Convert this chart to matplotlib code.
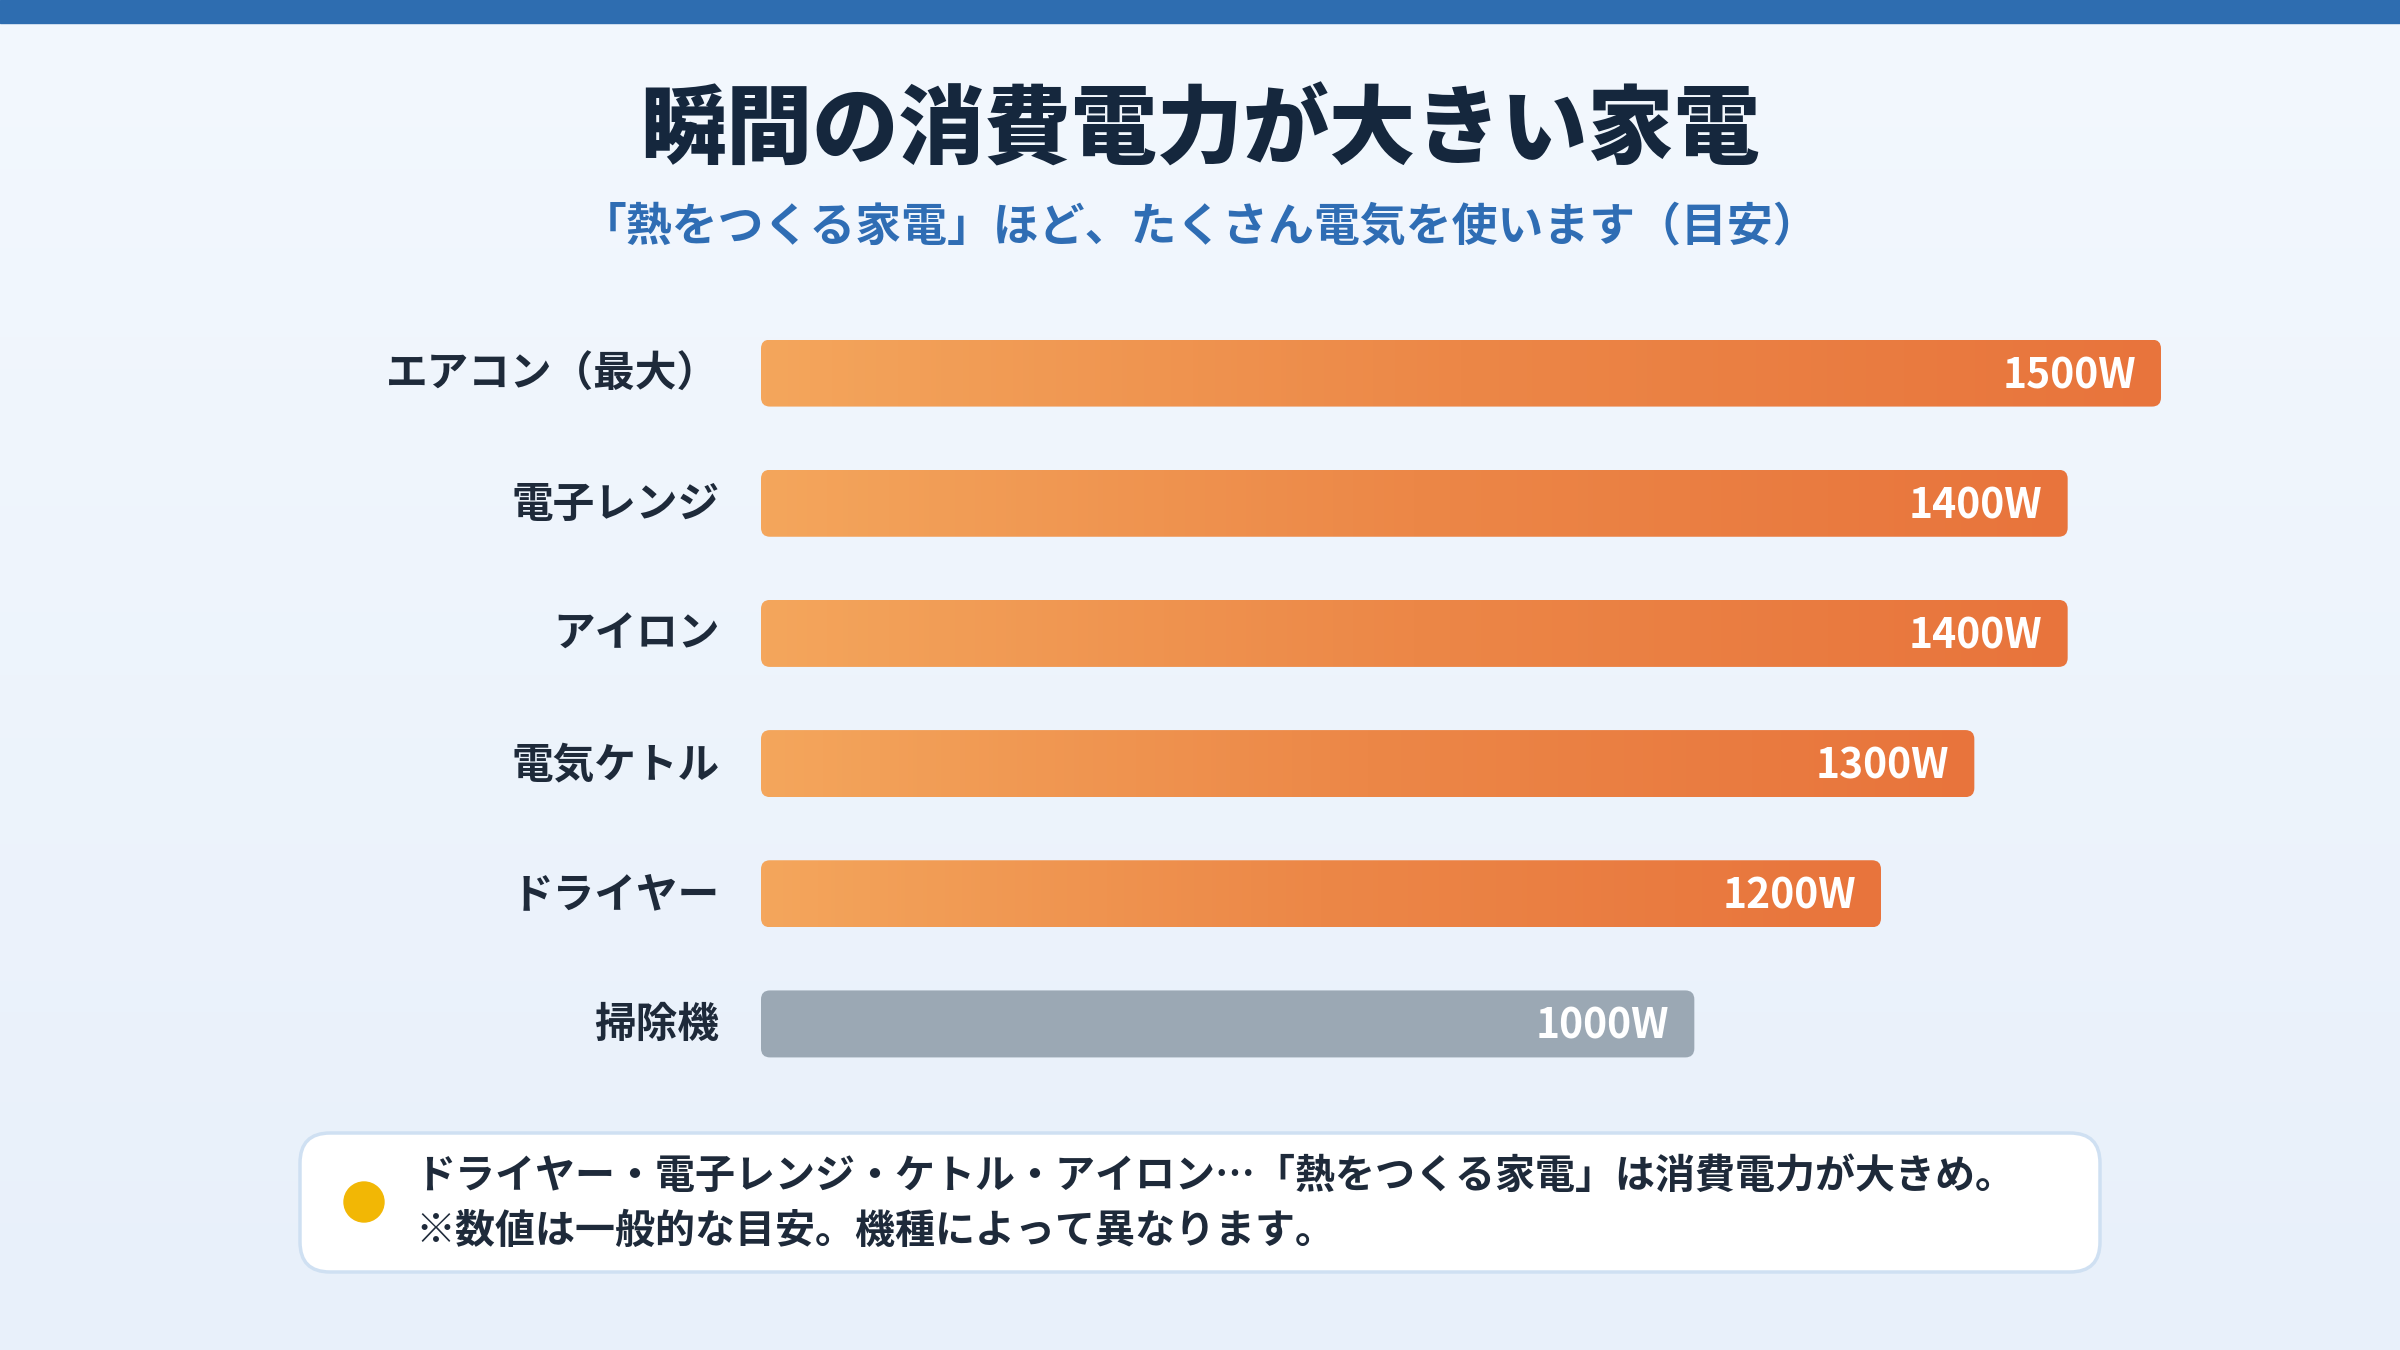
import matplotlib
matplotlib.use('Agg')
import matplotlib.pyplot as plt
import numpy as np
from matplotlib.patches import FancyBboxPatch, Rectangle, Circle
from matplotlib.colors import LinearSegmentedColormap

plt.rcParams['font.family'] = ['Noto Sans CJK JP', 'DejaVu Sans']

# ---- data ----
categories = ['エアコン（最大）', '電子レンジ', 'アイロン', '電気ケトル', 'ドライヤー', '掃除機']
values = [1500, 1400, 1400, 1300, 1200, 1000]
value_labels = ['1500W', '1400W', '1400W', '1300W', '1200W', '1000W']
highlight = [True, True, True, True, True, False]
title = '瞬間の消費電力が大きい家電'
subtitle = '「熱をつくる家電」ほど、たくさん電気を使います（目安）'
note_lines = ['ドライヤー・電子レンジ・ケトル・アイロン…「熱をつくる家電」は消費電力が大きめ。',
              '※数値は一般的な目安。機種によって異なります。']

W, H = 2400, 1350
fig = plt.figure(figsize=(24, 13.5), dpi=100)

# ---- background ----
bg = fig.add_axes([0, 0, 1, 1])
bg.axis('off')
cmap_bg = LinearSegmentedColormap.from_list('bg', ['#F3F8FE', '#E8F0FA'])
bg.imshow(np.linspace(0, 1, 256).reshape(-1, 1), cmap=cmap_bg,
          extent=(0, W, H, 0), aspect='auto', zorder=0)
bg.set_xlim(0, W)
bg.set_ylim(H, 0)
bg.add_patch(Rectangle((0, 0), W, 23, color='#2E6DB0', zorder=1))

bg.text(W / 2, 132, title, ha='center', va='center', fontsize=62,
        fontweight='heavy', color='#15273D', zorder=2)
bg.text(W / 2, 228, subtitle, ha='center', va='center', fontsize=33,
        fontweight='bold', color='#2F6DB4', zorder=2)

# note box
bg.add_patch(FancyBboxPatch((300, 1133), 1800, 139,
                            boxstyle='round,pad=0,rounding_size=30',
                            fc='white', ec='#CFE0F2', lw=2.5, zorder=2))
bg.add_patch(Circle((364, 1202), 20, color='#F2B705', zorder=3))
bg.text(415, 1176, note_lines[0], ha='left', va='center', fontsize=28.8,
        fontweight='bold', color='#1E2A3A', zorder=3)
bg.text(415, 1231, note_lines[1], ha='left', va='center', fontsize=28.8,
        fontweight='bold', color='#1E2A3A', zorder=3)

# ---- bars ----
ax_left, ax_right = 761, 2161
ax_top, ax_bottom = 308, 1089
ax = fig.add_axes([ax_left / W, 1 - ax_bottom / H, (ax_right - ax_left) / W,
                   (ax_bottom - ax_top) / H])
ax.patch.set_alpha(0)
xmax = 1500
px_per_x = (ax_right - ax_left) / xmax
px_per_y = (ax_bottom - ax_top) / 6.0

ypos = np.arange(len(categories))
bars = ax.barh(ypos, values, height=67 / px_per_y, color='none', edgecolor='none')

cmap_bar = LinearSegmentedColormap.from_list('bar', ['#F4A65C', '#EC8747', '#E8743C'])
r_px = 9
for bar, hl, lab in zip(bars, highlight, value_labels):
    x0, y0 = bar.get_x(), bar.get_y()
    w, h = bar.get_width(), bar.get_height()
    patch = FancyBboxPatch((x0, y0), w, h,
                           boxstyle=f'round,pad=0,rounding_size={r_px / px_per_x}',
                           mutation_aspect=px_per_x / px_per_y,
                           transform=ax.transData,
                           fc='#9BA8B4' if not hl else 'none', ec='none', zorder=2)
    ax.add_patch(patch)
    if hl:
        im = ax.imshow(np.linspace(0, 1, 256).reshape(1, -1), cmap=cmap_bar,
                       extent=(x0, x0 + w, y0 + h, y0), aspect='auto', zorder=2)
        im.set_clip_path(patch)
    ax.text(x0 + w - 25 / px_per_x, y0 + h / 2 + 3 / px_per_y, lab, ha='right', va='center',
            fontsize=29.4, fontweight='bold', color='white', zorder=4)

ax.set_xlim(0, xmax)
ax.set_ylim(5.5, -0.5)
ax.set_yticks(ypos - 3 / px_per_y)
ax.set_yticklabels(categories, fontsize=30, fontweight='bold', color='#1E2A3A')
ax.tick_params(axis='y', length=0, pad=30)
ax.set_xticks([])
for s in ax.spines.values():
    s.set_visible(False)

fig.savefig('out.png', dpi=100)
